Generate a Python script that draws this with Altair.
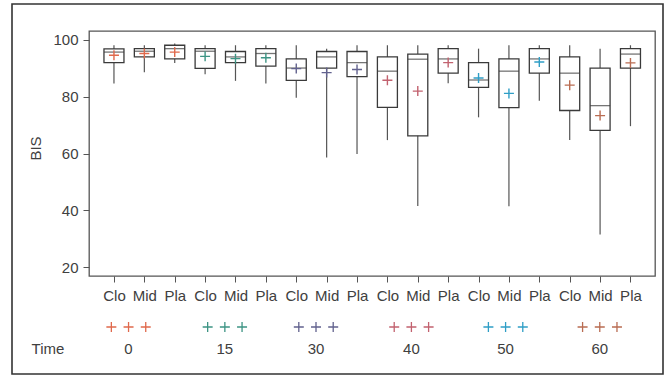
import json
import altair as alt
import pandas as pd

# ---------------- data ----------------
times = [0, 15, 30, 40, 50, 60]
treatments = ["Clo", "Mid", "Pla"]

whisk_hi = [98.0, 98.0, 98.6, 98.0, 98.0, 98.0, 98.0, 96.8, 98.0,
            98.0, 98.0, 98.0, 96.8, 98.0, 98.0, 98.0, 96.8, 98.0]
q3 = [96.7, 96.8, 98.0, 96.8, 95.8, 96.8, 93.2, 95.8, 95.8,
      93.9, 94.9, 96.8, 91.9, 93.2, 96.8, 93.9, 90.0, 96.8]
median = [95.6, 95.9, 96.8, 95.9, 93.9, 95.1, 90.0, 93.9, 91.9,
          88.9, 93.1, 93.2, 85.8, 88.9, 93.2, 88.2, 76.8, 94.9]
q1 = [91.9, 93.9, 93.2, 89.9, 91.9, 90.7, 85.7, 90.0, 87.0,
      76.2, 66.2, 88.2, 83.2, 76.1, 88.2, 75.1, 68.1, 90.0]
whisk_lo = [84.6, 88.5, 91.8, 87.8, 85.5, 84.6, 79.6, 58.6, 59.8,
            64.7, 41.6, 84.7, 72.7, 41.5, 78.5, 64.7, 31.6, 69.6]
means = [94.5, 95.1, 95.6, 94.1, 93.3, 93.6, 89.8, 88.4, 89.5,
         85.7, 81.9, 91.9, 86.5, 81.1, 92.1, 84.0, 73.3, 91.8]

time_colors = ["#e0694c", "#3d9484", "#62628e", "#c2626f", "#2f9ec6", "#b96c52"]

# ---------------- layout ----------------
time_label_pos = [1.48, 4.65, 7.65, 10.79, 13.89, 16.99]   # x-axis units
legend_cross_offsets = [-0.566, 0.0, 0.566]

rows = []
for i in range(18):
    rows.append(dict(idx=i + 1, time=str(times[i // 3]), trt=treatments[i % 3],
                     lo=whisk_lo[i], q1=q1[i], med=median[i], q3=q3[i],
                     hi=whisk_hi[i], mean=means[i]))
df = pd.DataFrame(rows)

leg_rows = []
for g, t in enumerate(times):
    for off in legend_cross_offsets:
        leg_rows.append(dict(x=time_label_pos[g] + off, time=str(t)))
df_leg = pd.DataFrame(leg_rows)
df_tl = pd.DataFrame(dict(x=time_label_pos, label=[str(t) for t in times]))

FONT = "Liberation Sans"
TXT = "#404040"
xdom = [0.343, 18.643]
ydom = [17, 103]

xscale = alt.Scale(domain=xdom, nice=False, zero=False)
yscale = alt.Scale(domain=ydom, nice=False, zero=False)
cscale = alt.Scale(domain=[str(t) for t in times], range=time_colors)

label_expr = json.dumps(treatments) + "[(datum.value - 1) % 3]"

xaxis = alt.Axis(values=list(range(1, 19)), labelExpr=label_expr, title=None,
                 grid=False, domain=False, tickSize=6, tickColor="#555",
                 labelFontSize=15, labelFont=FONT, labelColor=TXT,
                 labelPadding=6, labelOverlap=False, labelFlush=False)
yaxis = alt.Axis(values=[20, 40, 60, 80, 100], title="BIS", grid=False,
                 domain=False, tickSize=6, tickColor="#555",
                 labelFontSize=15, labelFont=FONT, labelColor=TXT, labelPadding=5,
                 titleFontSize=15, titleFont=FONT, titleColor=TXT,
                 titleFontWeight="normal", titleAngle=270, titleX=-54, titleY=117,
                 titleAlign="center", titleBaseline="middle")

X = lambda f: alt.X(f, scale=xscale, axis=xaxis)
Y = lambda f: alt.Y(f, scale=yscale, axis=yaxis)

base = alt.Chart(df)

whiskers = base.mark_rule(color="#555", strokeWidth=1.2).encode(
    x=X("idx:Q"), y=Y("lo:Q"), y2="hi:Q",
)
boxes = base.mark_bar(size=20, fill="white", stroke="#3a3a3a", strokeWidth=1.3).encode(
    x=X("idx:Q"), y=Y("q1:Q"), y2="q3:Q",
)
medians = base.mark_tick(orient="horizontal", size=20, thickness=1.3, color="#3a3a3a").encode(
    x=X("idx:Q"), y=Y("med:Q"),
)
cross = "M-1,0L1,0M0,-1L0,1"
mean_pts = base.mark_point(shape=cross, size=100, filled=False, strokeWidth=1.4, opacity=1).encode(
    x=X("idx:Q"), y=Y("mean:Q"),
    color=alt.Color("time:N", scale=cscale, legend=None),
)

leg_cross = alt.Chart(df_leg).mark_point(shape=cross, size=100, filled=False,
                                         strokeWidth=1.3, opacity=1).encode(
    x=X("x:Q"),
    y=alt.value(296),
    color=alt.Color("time:N", scale=cscale, legend=None),
)
time_labels = alt.Chart(df_tl).mark_text(fontSize=15, font=FONT, color=TXT,
                                         baseline="middle", align="center").encode(
    x=X("x:Q"),
    y=alt.value(318),
    text="label:N",
)
time_title = alt.Chart(pd.DataFrame({"t": ["Time"]})).mark_text(
    fontSize=15, font=FONT, color=TXT, baseline="middle", align="center").encode(
    x=alt.value(-41), y=alt.value(318), text="t:N")

frame = alt.Chart(pd.DataFrame({"a": [0]})).mark_rect(
    fill=None, stroke="#333", strokeWidth=1.6).encode(
    x=alt.value(-77), x2=alt.value(574), y=alt.value(-27), y2=alt.value(343))

chart = alt.layer(frame, whiskers, boxes, medians, mean_pts, leg_cross,
                  time_labels, time_title).properties(
    width=566, height=245,
    autosize=alt.AutoSizeParams(type="none"),
    padding={"left": 89, "top": 31, "right": 14, "bottom": 100},
    background="white",
).configure_view(stroke="#555", strokeWidth=1.3)

chart.save("out.html", embed_options={"renderer": "svg", "actions": False})
